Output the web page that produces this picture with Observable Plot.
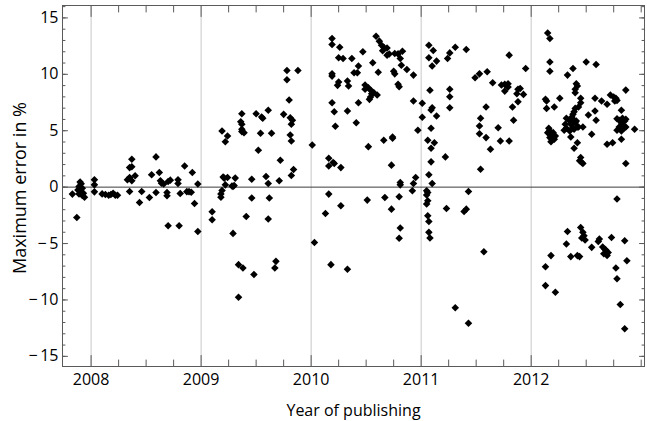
<!DOCTYPE html>
<html>
<head>
<meta charset="utf-8">
<script src="https://cdn.jsdelivr.net/npm/d3@7"></script>
<script src="https://cdn.jsdelivr.net/npm/@observablehq/plot@0.6"></script>
<style>
  html, body { margin: 0; padding: 0; background: white; }
</style>
</head>
<body>
<div id="chart"></div>
<script>
// [publication year (decimal), maximum error in %]
const late2007 = [
  [2007.83,-0.62],[2007.87,-2.69],[2007.90,0.45],[2007.91,0.3],[2007.89,0.05],[2007.92,-0.1],
  [2007.88,-0.25],[2007.90,-0.4],[2007.93,-0.55],[2007.92,-0.75],[2007.94,-0.9],[2007.89,-0.6]
];
const pubs2008 = [
  [2008.03,0.65],[2008.03,0.2],[2008.03,-0.42],
  [2008.10,-0.6],[2008.13,-0.65],[2008.16,-0.72],[2008.18,-0.65],[2008.20,-0.55],[2008.22,-0.72],[2008.24,-0.72],
  [2008.33,0.65],[2008.35,0.85],[2008.37,0.56],[2008.35,1.73],[2008.37,1.8],[2008.37,2.47],[2008.40,1.0],
  [2008.35,-0.39],[2008.44,-1.36],[2008.46,-0.39],
  [2008.53,-0.92],[2008.55,1.09],[2008.59,2.68],[2008.62,1.29],[2008.59,-0.48],
  [2008.63,0.56],[2008.66,0.27],[2008.70,0.5],[2008.72,0.62],[2008.64,0.35],
  [2008.69,-0.48],[2008.69,-0.77],[2008.70,-3.42],
  [2008.79,0.65],[2008.79,0.32],[2008.80,-3.42],[2008.81,-0.57],[2008.85,1.88],
  [2008.87,-0.4],[2008.89,-0.4],[2008.91,-0.45],[2008.92,1.29],[2008.94,-1.45],[2008.97,-3.93],[2008.97,0.27]
];
const pubs2009 = [
  [2009.19,4.98],[2009.24,4.54],[2009.22,4.03],[2009.37,6.51],[2009.36,5.8],[2009.37,5.57],[2009.37,5.13],
  [2009.37,4.92],[2009.39,4.83],[2009.50,6.51],[2009.55,6.22],[2009.56,6.1],[2009.61,6.81],[2009.54,4.77],
  [2009.64,4.77],[2009.52,3.27],[2009.75,6.45],[2009.80,7.72],[2009.81,6.15],[2009.83,5.92],[2009.82,5.57],
  [2009.81,4.62],[2009.82,4.09],[2009.78,10.34],[2009.88,10.34],[2009.78,9.51],[2009.72,2.39],[2009.84,1.56],
  [2009.82,1.03],
  [2009.20,0.9],[2009.21,0.8],[2009.24,0.85],[2009.31,0.8],[2009.22,0.2],[2009.28,0.1],[2009.29,0.05],
  [2009.30,0.15],[2009.19,-0.3],[2009.18,-0.6],[2009.18,-0.9],[2009.46,0.7],[2009.59,0.94],[2009.61,0.32],
  [2009.71,0.56],[2009.46,-0.97],[2009.62,-0.97],
  [2009.10,-2.18],[2009.10,-2.89],[2009.41,-2.6],[2009.61,-2.83],[2009.29,-4.1],[2009.34,-6.87],
  [2009.38,-7.16],[2009.48,-7.75],[2009.68,-6.58],[2009.67,-7.16],[2009.34,-9.76]
];
const pubs2010 = [
  [2010.01,3.74],[2010.03,-4.9],
  [2010.19,13.17],[2010.19,12.64],[2010.26,12.4],[2010.25,11.46],[2010.29,11.41],[2010.37,11.41],[2010.47,12.0],
  [2010.43,10.73],[2010.39,10.13],[2010.42,10.13],[2010.19,10.04],[2010.19,9.84],[2010.25,9.31],[2010.24,9.02],
  [2010.33,9.4],[2010.34,8.96],[2010.19,7.48],[2010.21,6.68],[2010.33,6.75],[2010.43,7.48],[2010.22,5.39],[2010.41,5.71],
  [2010.56,11.02],[2010.59,13.38],[2010.62,12.94],[2010.64,12.58],[2010.66,12.4],[2010.65,12.1],[2010.69,12.34],
  [2010.69,11.7],[2010.71,11.8],[2010.76,11.85],[2010.79,11.81],[2010.83,12.05],[2010.81,11.41],[2010.82,10.81],
  [2010.87,10.43],[2010.93,9.93],[2010.61,10.19],[2010.75,10.28],[2010.76,10.04],[2010.79,9.11],[2010.80,8.9],
  [2010.49,9.05],[2010.49,8.67],[2010.52,8.8],[2010.55,8.51],[2010.55,8.28],[2010.57,8.36],[2010.60,8.16],
  [2010.53,7.78],[2010.54,7.99],
  [2010.93,7.63],[2010.97,5.04],[2010.66,4.16],[2010.74,4.45],[2010.74,4.33],[2010.52,3.59],[2010.16,2.56],
  [2010.16,1.88],[2010.20,2.18],[2010.21,2.09],[2010.27,1.73],[2010.73,1.95],[2010.81,0.41],[2010.81,0.2],
  [2010.95,0.85],[2010.93,0.32],[2010.92,-0.33],[2010.16,-0.62],[2010.80,-0.86],[2010.67,-0.92],[2010.51,-1.15],
  [2010.27,-1.65],[2010.13,-2.33],[2010.73,-1.95],[2010.81,-3.63],[2010.80,-4.54],[2010.18,-6.87],[2010.33,-7.28]
];
const pubs2011 = [
  [2011.01,7.43],[2011.01,6.2],
  [2011.07,12.58],[2011.11,12.11],[2011.07,11.46],[2011.14,11.17],[2011.10,10.73],[2011.24,11.41],[2011.26,11.9],
  [2011.31,12.4],[2011.41,12.2],[2011.08,8.58],[2011.10,7.04],[2011.09,6.83],[2011.14,6.3],[2011.09,5.22],
  [2011.06,4.16],[2011.12,3.94],[2011.09,3.45],[2011.09,2.24],[2011.22,2.68],[2011.07,1.09],[2011.10,0.32],
  [2011.26,8.67],[2011.26,8.01],[2011.26,7.04],
  [2011.05,-0.33],[2011.06,-0.48],[2011.05,-0.7],[2011.06,-1.2],[2011.05,-1.5],[2011.06,-2.54],[2011.07,-3.04],
  [2011.07,-4.01],[2011.08,-4.51],[2011.23,-1.89],[2011.39,-2.16],[2011.41,-1.95],[2011.43,-0.39],[2011.57,-5.72],
  [2011.31,-10.7],[2011.43,-12.06],
  [2011.49,9.69],[2011.53,10.04],[2011.60,10.22],[2011.80,11.7],[2011.95,10.51],[2011.65,9.25],[2011.73,9.05],
  [2011.76,9.11],[2011.79,9.16],[2011.79,8.87],[2011.76,8.51],[2011.88,8.67],[2011.90,8.75],[2011.87,8.28],
  [2011.93,8.22],[2011.88,7.57],[2011.83,7.1],[2011.84,5.92],[2011.59,7.1],[2011.54,6.1],[2011.53,5.42],
  [2011.53,4.74],[2011.59,4.39],[2011.63,3.36],[2011.54,1.59],[2011.70,5.27],[2011.72,4.09],[2011.80,4.09]
];
const pubs2012 = [
  [2012.15,13.67],[2012.17,13.17],[2012.17,11.1],[2012.17,10.28],[2012.38,10.52],[2012.33,9.93],[2012.50,11.1],
  [2012.59,10.87],[2012.41,9.16],[2012.42,8.96],[2012.40,8.67],[2012.40,8.36],[2012.13,7.78],[2012.14,7.63],
  [2012.14,6.98],[2012.21,7.1],[2012.26,7.87],[2012.45,7.87],[2012.45,7.48],[2012.43,7.1],[2012.40,6.98],
  [2012.39,6.68],[2012.38,6.45],[2012.37,6.22],
  [2012.32,6.1],[2012.35,5.86],[2012.31,5.57],[2012.36,5.57],[2012.40,5.71],[2012.38,5.27],[2012.32,5.22],
  [2012.42,5.33],[2012.43,5.33],[2012.30,5.04],[2012.35,4.98],[2012.39,5.13],[2012.41,5.86],[2012.38,6.01],
  [2012.47,5.33],
  [2012.16,5.22],[2012.17,4.98],[2012.15,4.83],[2012.18,4.69],[2012.17,4.39],[2012.19,4.54],[2012.19,4.33],
  [2012.21,4.24],[2012.18,4.03],[2012.22,4.54],[2012.20,4.83],
  [2012.36,4.45],[2012.42,3.94],[2012.39,3.45],[2012.45,2.62],[2012.44,2.33],[2012.47,2.09],[2012.46,2.18],
  [2012.52,6.39],[2012.58,6.75],[2012.59,5.92],[2012.55,4.69],[2012.58,7.87],[2012.64,7.63],[2012.69,7.34],
  [2012.72,8.16],[2012.75,7.98],[2012.77,7.87],[2012.78,7.69],[2012.76,7.63],[2012.86,8.6],[2012.82,6.81],
  [2012.78,6.07],[2012.80,5.92],[2012.83,6.1],[2012.86,6.01],[2012.85,5.86],[2012.82,5.71],[2012.83,5.42],
  [2012.80,5.33],[2012.78,5.04],[2012.82,4.98],[2012.85,5.27],[2012.86,5.33],[2012.94,5.13],[2012.82,4.24],
  [2012.69,3.8],[2012.74,3.94],[2012.86,2.09],
  [2012.78,-1.06],[2012.33,-3.93],[2012.45,-3.57],[2012.47,-4.01],[2012.48,-4.31],[2012.46,-4.51],[2012.49,-4.69],
  [2012.32,-5.04],[2012.55,-5.34],[2012.62,-4.6],[2012.61,-4.81],[2012.73,-4.46],[2012.85,-4.75],[2012.18,-6.07],
  [2012.36,-6.16],[2012.42,-6.07],[2012.44,-6.16],[2012.65,-5.3],[2012.67,-5.5],[2012.68,-5.6],[2012.70,-5.8],
  [2012.66,-5.9],[2012.69,-6.05],[2012.87,-6.52],[2012.13,-7.05],[2012.77,-7.16],[2012.78,-8.13],[2012.13,-8.73],
  [2012.22,-9.32],[2012.81,-10.41],[2012.85,-12.56]
];

const yearTicks = [2008, 2009, 2010, 2011, 2012];
const yearMinorTicks = [2008.25,2008.5,2008.75,2009.25,2009.5,2009.75,2010.25,2010.5,2010.75,
  2011.25,2011.5,2011.75,2012.25,2012.5,2012.75,2013];
const errTicks = [-15, -10, -5, 0, 5, 10, 15];
const errMinorTicks = [-15,-14,-13,-12,-11,-10,-9,-8,-7,-6,-5,-4,-3,-2,-1,0,1,2,3,4,5,6,7,8,9,10,11,12,13,14,15,16];
const xLabel = "Year of publishing";
const yLabel = "Maximum error in %";

const data = [...late2007, ...pubs2008, ...pubs2009, ...pubs2010, ...pubs2011, ...pubs2012]
  .map(([year, err]) => ({year, err}));

const tickShape = {draw(context, l) { context.moveTo(0, 0); context.lineTo(0, -l); }};
const frameColor = "#5a5a5a";
const fmtErr = d => d < 0 ? "\u2212\u2009" + (-d) : String(d);

function ticksX(values, len) {
  return [
    Plot.vector(values, {x: d => d, frameAnchor: "bottom", length: len, rotate: 0, anchor: "start", shape: tickShape, stroke: frameColor, strokeWidth: 1}),
    Plot.vector(values, {x: d => d, frameAnchor: "top", length: len, rotate: 180, anchor: "start", shape: tickShape, stroke: frameColor, strokeWidth: 1})
  ];
}
function ticksY(values, len) {
  return [
    Plot.vector(values, {y: d => d, frameAnchor: "left", length: len, rotate: 90, anchor: "start", shape: tickShape, stroke: frameColor, strokeWidth: 1}),
    Plot.vector(values, {y: d => d, frameAnchor: "right", length: len, rotate: -90, anchor: "start", shape: tickShape, stroke: frameColor, strokeWidth: 1})
  ];
}

const chart = Plot.plot({
  width: 647,
  height: 421,
  marginLeft: 62,
  marginRight: 3,
  marginTop: 5,
  marginBottom: 55,
  style: {fontFamily: "'Open Sans', sans-serif", fontSize: "16px", background: "white", color: "#000"},
  x: {domain: [2007.74, 2013.03]},
  y: {domain: [-15.9, 16.1]},
  length: {type: "identity"},
  marks: [
    Plot.gridX(yearTicks, {stroke: "#c8c8c8", strokeOpacity: 1, strokeWidth: 1}),
    Plot.ruleY([0], {stroke: "#3c3c3c", strokeWidth: 1}),
    Plot.dot(data, {x: "year", y: "err", symbol: "diamond2", r: 3.4, fill: "black", stroke: "none"}),
    Plot.frame({stroke: frameColor, strokeWidth: 1}),
    ...ticksX(yearTicks, 11),
    ...ticksX(yearMinorTicks, 6.5),
    ...ticksY(errTicks, 5),
    ...ticksY(errMinorTicks, 2.5),
    Plot.axisX(yearTicks, {anchor: "bottom", tickSize: 0, tickPadding: 7, tickFormat: d => String(d), label: null, fontSize: 16, fill: "#000"}),
    Plot.axisY(errTicks, {anchor: "left", tickSize: 0, tickPadding: 4, tickFormat: fmtErr, label: null, fontSize: 16, fill: "#000"}),
    Plot.text([xLabel], {frameAnchor: "bottom", dy: 44, text: d => d, fontSize: 16, fill: "#000", textAnchor: "middle", lineAnchor: "middle"}),
    Plot.text([yLabel], {frameAnchor: "left", dx: -42, rotate: -90, dy: 2, text: d => d, fontSize: 18, fill: "#000", textAnchor: "middle", lineAnchor: "middle"})
  ]
});
document.getElementById("chart").appendChild(chart);
</script>
</body>
</html>
